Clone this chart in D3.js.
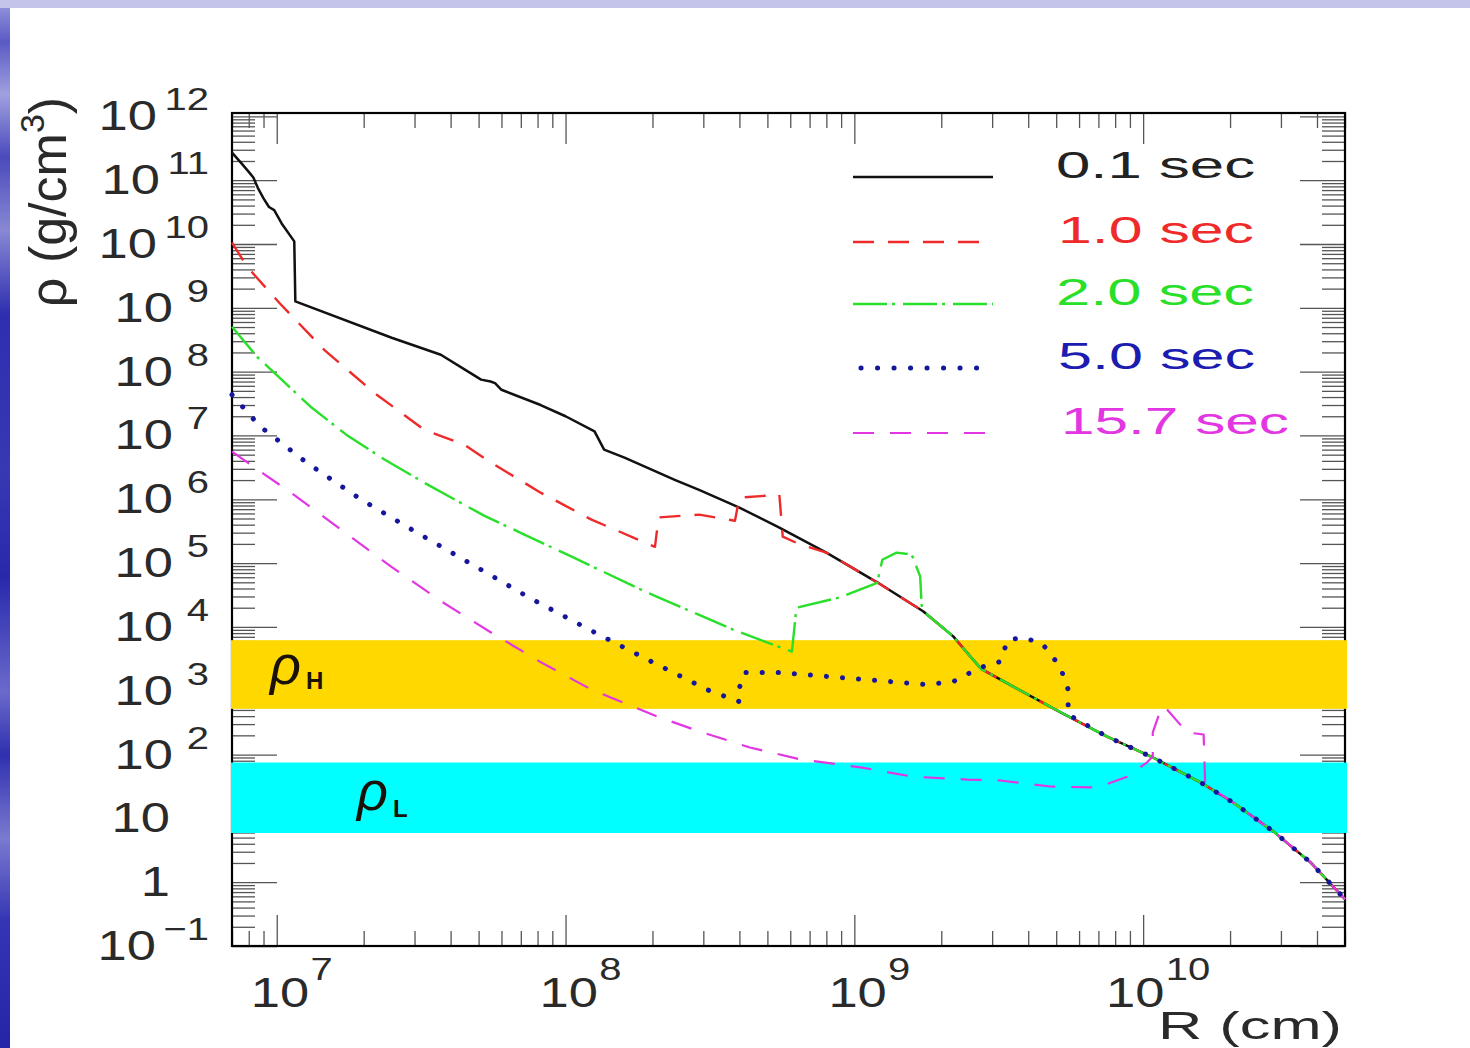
<!DOCTYPE html>
<html>
<head>
<meta charset="utf-8">
<script src="https://cdn.jsdelivr.net/npm/d3@7"></script>
<style>
html, body { margin: 0; padding: 0; background: #fff; overflow: hidden; }
svg { display: block; font-family: "Liberation Sans", Arial, sans-serif; }
</style>
</head>
<body>
<div id="chart"></div>
<script>
// R (cm), rho (g/cm^3)
var envelope = [
    [8.0e8, 1.46e5], [1.2e9, 5.0e4], [1.73e9, 1.76e4], [2.2e9, 7.1e3], [2.5e9, 3.6e3],
    [2.75e9, 2.2e3], [3.55e9, 1.16e3], [5.2e9, 455], [7.5e9, 191], [1.08e10, 90],
    [1.58e10, 36.6], [2.05e10, 17.7], [2.83e10, 6.2], [3.8e10, 2.04], [5.0e10, 0.54]
];
var t01 = [
    [7.0e6, 2.7e11], [7.5e6, 1.9e11], [8.0e6, 1.35e11], [8.3e6, 1.1e11], [8.6e6, 7.6e10],
    [9.0e6, 5.2e10], [9.4e6, 3.8e10], [9.8e6, 3.4e10], [1.04e7, 2.1e10], [1.15e7, 1.1e10],
    [1.16e7, 1.26e9], [2.5e7, 3.4e8], [3.7e7, 1.84e8], [4.6e7, 1.0e8], [5.1e7, 7.5e7],
    [5.5e7, 7.0e7], [5.7e7, 6.6e7], [6.0e7, 5.2e7], [8.2e7, 3.0e7], [1.0e8, 2.0e7],
    [1.26e8, 1.16e7], [1.36e8, 6.0e6], [1.6e8, 4.5e6], [2.4e8, 2.0e6], [2.9e8, 1.4e6],
    [4.0e8, 7.4e5], [5.5e8, 3.6e5]
];
var t10 = [
    [7.0e6, 1.05e10], [7.9e6, 4.4e9], [1.02e7, 1.2e9], [1.46e7, 2.2e8], [2.17e7, 4.7e7],
    [3.24e7, 1.23e7], [4.46e7, 7.2e6], [5.5e7, 3.8e6], [8.2e7, 1.27e6], [1.23e8, 4.8e5],
    [2.04e8, 1.8e5], [2.1e8, 5.2e5], [2.9e8, 5.75e5], [3.86e8, 4.6e5], [4.0e8, 1.06e6],
    [5.5e8, 1.18e6], [5.65e8, 2.6e5], [6.5e8, 1.95e5]
];
var t20 = [
    [7.0e6, 5.05e8], [8.55e6, 1.71e8], [1.31e7, 2.82e7], [1.74e7, 1.03e7], [2.36e7, 4.2e6],
    [3.24e7, 1.82e6], [5.24e7, 5.5e5], [7.2e7, 2.8e5], [1.05e8, 1.26e5], [1.88e8, 3.6e4],
    [3.8e8, 9.1e3], [6.08e8, 4.1e3], [6.3e8, 2.0e4], [8.9e8, 2.9e4], [1.2e9, 4.9e4],
    [1.25e9, 1.13e5], [1.4e9, 1.46e5], [1.58e9, 1.36e5], [1.69e9, 6.2e4], [1.71e9, 2.2e4]
];
var t50 = [
    [7.0e6, 4.35e7], [8.7e6, 1.42e7], [1.27e7, 3.75e6], [1.96e7, 9.9e5], [3.06e7, 3.0e5],
    [4.83e7, 9.1e4], [7.6e7, 2.77e4], [1.23e8, 8.7e3], [1.95e8, 2.97e3], [3.15e8, 1.0e3],
    [4.0e8, 676], [4.0e8, 1.12e3], [4.17e8, 1.93e3], [5.52e8, 1.93e3], [9.9e8, 1.55e3],
    [1.78e9, 1.25e3], [2.2e9, 1.39e3], [2.72e9, 2.3e3], [3.2e9, 2.86e3], [3.4e9, 6.3e3],
    [3.84e9, 6.8e3], [4.47e9, 5.5e3], [5.16e9, 2.39e3], [5.5e9, 1.04e3], [5.5e9, 424]
];
var t157 = [
    [7.0e6, 5.6e6], [8.8e6, 2.7e6], [1.12e7, 1.27e6], [1.67e7, 3.35e5], [2.49e7, 8.8e4],
    [3.72e7, 2.5e4], [5.54e7, 8.1e3], [8.26e7, 2.76e3], [1.23e8, 1.04e3], [2.08e8, 393],
    [2.92e8, 229], [4.35e8, 129], [6.5e8, 84], [1.05e9, 63], [1.6e9, 45], [2.46e9, 40.6],
    [3.2e9, 39.2], [4.77e9, 31.6], [6.56e9, 30.5], [7.1e9, 31.6], [8.8e9, 45],
    [1.03e10, 75], [1.08e10, 93], [1.08e10, 222], [1.16e10, 566], [1.21e10, 507],
    [1.42e10, 222], [1.62e10, 206], [1.64e10, 34]
];
var seriesLabels = ["0.1 sec", "1.0 sec", "2.0 sec", "5.0 sec", "15.7 sec"];
var rhoH = [520, 6200];
var rhoL = [5.9, 75];
var xMajorExp = [7, 8, 9, 10];
var yMajorExp = [-1, 0, 1, 2, 3, 4, 5, 6, 7, 8, 9, 10, 11, 12];

var W = 1470, H = 1048;
var frame = {x0: 232, x1: 1345, y0: 113, y1: 946};

var x = d3.scaleLog().domain([7e6, 5e10]).range([frame.x0, frame.x1]);
var y = d3.scaleLog().domain([0.1, 1.13e12]).range([frame.y1, frame.y0]);

var svg = d3.select("#chart").append("svg")
    .attr("width", W)
    .attr("height", H);

// slide background
var defs = svg.append("defs");
var grad = defs.append("linearGradient").attr("id", "strip")
    .attr("x1", 0).attr("y1", 0).attr("x2", 0).attr("y2", 1);
[[0, "#9a9ade"], [0.04, "#5a5ac4"], [0.09, "#a0a0e0"], [0.15, "#4a4abc"], [0.22, "#8888d4"],
 [0.3, "#2e2eb0"], [0.45, "#3838b4"], [0.55, "#2828ac"], [0.66, "#6a6acc"], [0.72, "#3030b0"],
 [0.8, "#7a7ad0"], [0.88, "#3434b4"], [1, "#2424a8"]].forEach(s => {
    grad.append("stop").attr("offset", s[0]).attr("stop-color", s[1]);
});
svg.append("rect").attr("width", W).attr("height", H).attr("fill", "#fff");
svg.append("rect").attr("x", 0).attr("y", 0).attr("width", 10).attr("height", H).attr("fill", "url(#strip)");
svg.append("rect").attr("x", 0).attr("y", 0).attr("width", W).attr("height", 8).attr("fill", "#c4c4ea");

function logTicks(lo, hi) {
    var t = [];
    for (var e = Math.floor(Math.log10(lo)); e <= Math.ceil(Math.log10(hi)); e++)
        for (var m = 1; m < 10; m++) {
            var v = m * Math.pow(10, e);
            if (v >= lo * 0.999 && v <= hi * 1.001) t.push(v);
        }
    return t;
}
function isMajor(v) {
    var l = Math.log10(v);
    return Math.abs(l - Math.round(l)) < 1e-6;
}

var xTicks = logTicks(7e6, 5e10);
var yTicks = logTicks(0.1, 1.13e12);

function styleTicks(g) {
    g.select(".domain").remove();
    g.selectAll(".tick text").remove();
    g.selectAll(".tick line").attr("stroke", "#555").attr("stroke-width", 1.3);
}

var gxb = svg.append("g").attr("class", "x axis").attr("transform", "translate(0," + frame.y1 + ")")
    .call(d3.axisBottom(x).tickValues(xTicks).tickSizeOuter(0));
gxb.call(styleTicks).selectAll(".tick line").attr("y2", d => isMajor(d) ? -31 : -15);

var gxt = svg.append("g").attr("class", "x axis").attr("transform", "translate(0," + frame.y0 + ")")
    .call(d3.axisTop(x).tickValues(xTicks).tickSizeOuter(0));
gxt.call(styleTicks).selectAll(".tick line").attr("y2", d => isMajor(d) ? 31 : 15);

var gyl = svg.append("g").attr("class", "y axis").attr("transform", "translate(" + frame.x0 + ",0)")
    .call(d3.axisLeft(y).tickValues(yTicks).tickSizeOuter(0));
gyl.call(styleTicks).selectAll(".tick line").attr("x2", d => isMajor(d) ? 45 : 23);

var gyr = svg.append("g").attr("class", "y axis").attr("transform", "translate(" + frame.x1 + ",0)")
    .call(d3.axisRight(y).tickValues(yTicks).tickSizeOuter(0));
gyr.call(styleTicks).selectAll(".tick line").attr("x2", d => isMajor(d) ? -45 : -23);

svg.append("rect")
    .attr("x", frame.x0).attr("y", frame.y0)
    .attr("width", frame.x1 - frame.x0).attr("height", frame.y1 - frame.y0)
    .attr("fill", "none").attr("stroke", "#000").attr("stroke-width", 2.2);

// density bands
svg.append("rect")
    .attr("x", frame.x0 - 1).attr("width", frame.x1 - frame.x0 + 3)
    .attr("y", y(rhoH[1])).attr("height", y(rhoH[0]) - y(rhoH[1]))
    .attr("fill", "#ffd800");
svg.append("rect")
    .attr("x", frame.x0 - 1).attr("width", frame.x1 - frame.x0 + 3)
    .attr("y", y(rhoL[1])).attr("height", y(rhoL[0]) - y(rhoL[1]))
    .attr("fill", "#00ffff");

// curves
var colors = ["#111111", "#ee2a2a", "#2adf2a", "#16169c", "#e236e2"];
var dashes = [null, "21 14", "34 5 3 8", "0.1 16", "21 16"];
var widths = [2.5, 2.4, 2.4, 5, 2.2];

function withEnvelope(s) {
    var last = s[s.length - 1][0];
    return s.concat(envelope.filter(d => d[0] > last * 1.001));
}
var dataset = [t01, t10, t20, t50, t157].map(withEnvelope);

var line = d3.line()
    .x(d => x(d[0]))
    .y(d => y(d[1]));

defs.append("clipPath").attr("id", "plotclip").append("rect")
    .attr("x", frame.x0 - 5).attr("y", frame.y0)
    .attr("width", frame.x1 - frame.x0 + 6).attr("height", frame.y1 - frame.y0);

var order = [0, 1, 2, 4, 3];
var curves = svg.append("g").attr("clip-path", "url(#plotclip)");
order.forEach(i => {
    curves.append("path")
        .datum(dataset[i])
        .attr("class", "line")
        .attr("d", line)
        .attr("fill", "none")
        .attr("stroke", colors[i])
        .attr("stroke-width", widths[i])
        .attr("stroke-dasharray", dashes[i])
        .attr("stroke-linecap", i == 3 ? "round" : "butt")
        .attr("stroke-linejoin", "round");
});

// legend
var legendY = [177, 242, 304, 368, 433];
var legendX = [1056, 1058, 1056, 1058, 1061];
var legendW = [199, 196, 198, 197, 228];
var legendText = ["#222", "#ee2a2a", "#2adf2a", "#1c1cb0", "#e236e2"];
seriesLabels.forEach((label, i) => {
    svg.append("line")
        .attr("x1", i == 3 ? 861 : 853).attr("x2", i == 3 ? 978 : 993)
        .attr("y1", legendY[i]).attr("y2", legendY[i])
        .attr("stroke", colors[i])
        .attr("stroke-width", widths[i])
        .attr("stroke-dasharray", i == 3 ? "0.1 16.4" : dashes[i])
        .attr("stroke-linecap", i == 3 ? "round" : "butt");
    svg.append("text")
        .attr("x", legendX[i]).attr("y", legendY[i] + 1)
        .attr("font-size", 37)
        .attr("fill", legendText[i])
        .attr("textLength", legendW[i])
        .attr("lengthAdjust", "spacingAndGlyphs")
        .text(label);
});

// band labels
function bandLabel(px, py, sub, subDy) {
    var t = svg.append("text").attr("x", px).attr("y", py).attr("fill", "#1a1208");
    t.append("tspan").attr("font-size", 54).attr("font-style", "italic").text("ρ");
    t.append("tspan").attr("font-size", 24).attr("font-weight", "bold").attr("dx", 5).attr("dy", subDy).text(sub);
}
bandLabel(270, 684, "H", 5);
bandLabel(357, 810, "L", 7);

// tick labels
var tickColor = "#2a2a2a";
var ylab = svg.append("g").selectAll("g").data(yMajorExp).join("g")
    .attr("transform", d => "translate(" + (d == 0 || d == 1 ? 170 : 209) + "," + (y(Math.pow(10, d)) + 14) + ") scale(1.25,1)");
ylab.each(function(d) {
    var t = d3.select(this).append("text").attr("text-anchor", "end").attr("fill", tickColor);
    t.append("tspan").attr("font-size", 42).text(d == 0 ? "1" : "10");
    if (d != 0 && d != 1) {
        var sup = d < 0 ? "\u2212" + (-d) : String(d);
        t.append("tspan").attr("font-size", 32)
            .attr("dx", sup.length > 1 ? 6 : 11).attr("dy", -20).text(sup);
    }
});

var xlab = svg.append("g").selectAll("g").data(xMajorExp).join("g")
    .attr("transform", d => "translate(" + (x(Math.pow(10, d)) + 15) + ",1007) scale(1.25,1)");
xlab.each(function(d) {
    var t = d3.select(this).append("text").attr("text-anchor", "middle").attr("fill", tickColor);
    t.append("tspan").attr("font-size", 42).text("10");
    t.append("tspan").attr("font-size", 32).attr("dx", 1).attr("dy", -27).text(d);
});

// axis titles
svg.append("text")
    .attr("x", 1158).attr("y", 1039)
    .attr("font-size", 38).attr("fill", tickColor)
    .attr("textLength", 184).attr("lengthAdjust", "spacingAndGlyphs")
    .text("R (cm)");

var ytitle = svg.append("g").attr("transform", "translate(66,202) rotate(-90)")
    .append("text").attr("text-anchor", "middle").attr("fill", tickColor).attr("font-size", 52);
ytitle.append("tspan").text("ρ (g/cm");
ytitle.append("tspan").attr("font-size", 34).attr("dy", -22).text("3");
ytitle.append("tspan").attr("dy", 22).text(")");
</script>
</body>
</html>
